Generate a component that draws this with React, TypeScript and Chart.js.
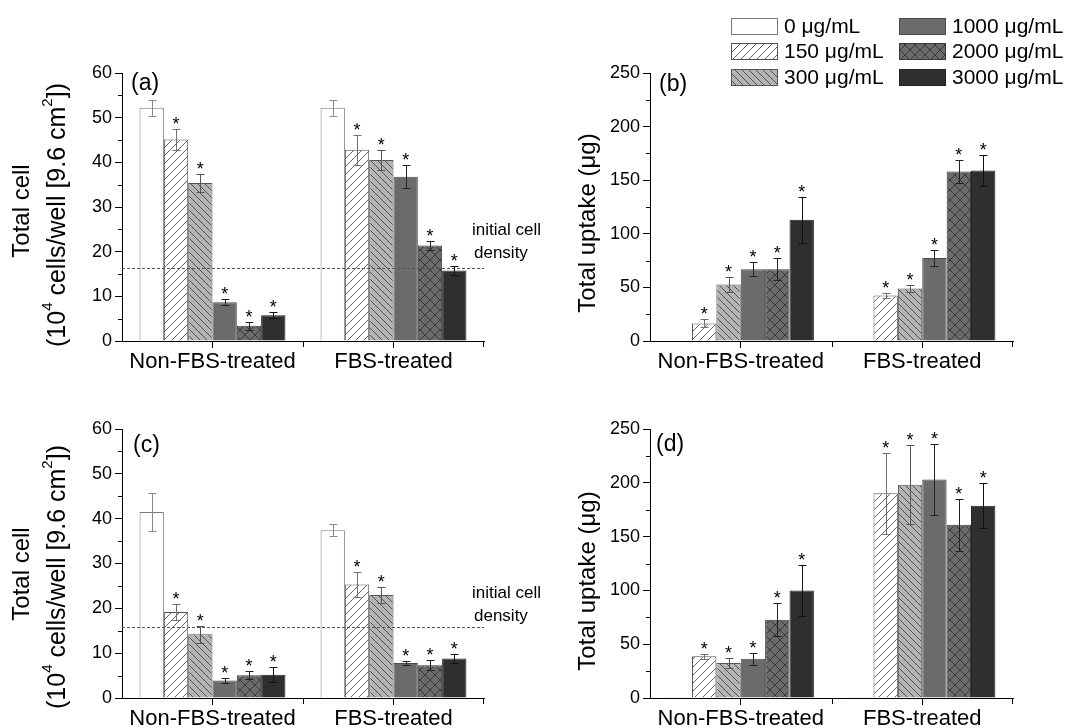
import React, { useEffect, useRef } from "react";
import { Chart, registerables } from "chart.js";
Chart.register(...registerables);

const FONT = '"Liberation Sans", Arial, sans-serif';
const W = 1078;
const H = 728;

// ---------- data ----------
const groups = ["Non-FBS-treated", "FBS-treated"];
const concentrations = ["0 μg/mL", "150 μg/mL", "300 μg/mL", "1000 μg/mL", "2000 μg/mL", "3000 μg/mL"];

// values per concentration: [Non-FBS-treated, FBS-treated]
const cellsA = [[52.2, 52.2], [45.1, 42.8], [35.4, 40.5], [8.7, 36.8], [3.4, 21.4], [5.75, 15.8]];
const cellsAErr = [[1.75, 1.75], [2.3, 3.4], [2.1, 2.3], [0.75, 2.6], [0.9, 1.1], [0.7, 1.1]];
const uptakeB = [[0, 0], [16.4, 42.5], [52.7, 49], [67, 77.5], [67, 158], [113, 159]];
const uptakeBErr = [[0, 0], [3.7, 2], [7, 3.7], [6.5, 7.3], [10.5, 11], [21.5, 14.7]];
const cellsC = [[41.5, 37.4], [19.2, 25.3], [14.2, 23.0], [3.9, 7.8], [5.1, 7.3], [5.2, 8.8]];
const cellsCErr = [[4.2, 1.3], [1.7, 2.8], [1.9, 1.7], [0.55, 0.5], [0.9, 1.1], [1.7, 1.0]];
const uptakeD = [[0.6, 0.6], [38.7, 190.2], [32.5, 198.3], [36.5, 203], [72.8, 161], [100, 178.7]];
const uptakeDErr = [[0, 0], [2.2, 37.5], [4.3, 36.7], [5.4, 33], [15.6, 24.2], [23.7, 21]];
const significant = [[false, false], [true, true], [true, true], [true, true], [true, true], [true, true]];

const initialDensityA = 16.4;
const initialDensityC = 15.8;
const cellAxisMax = 60;
const cellAxisStep = 10;
const uptakeAxisMax = 250;
const uptakeAxisStep = 50;

// ---------- styles ----------
const seriesStyle = [
  { bg: "#ffffff", hatch: "", line: "", border: "#7a7a7a", err: "#8a8a8a" },
  { bg: "#ffffff", hatch: "fwd", line: "#3a3a3a", border: "#555555", err: "#707070" },
  { bg: "#b4b4b4", hatch: "back", line: "#3a3a3a", border: "#555555", err: "#555555" },
  { bg: "#6b6b6b", hatch: "", line: "", border: "#4a4a4a", err: "#222222" },
  { bg: "#6b6b6b", hatch: "cross", line: "#2b2b2b", border: "#3a3a3a", err: "#222222" },
  { bg: "#2f2f2f", hatch: "", line: "", border: "#222222", err: "#111111" },
];

type Seg = { t: string; sup?: boolean };
type TitleLine = { segs: Seg[]; x: number; y: number; size: number };
type Panel = {
  key: string;
  values: number[][];
  errors: number[][];
  max: number;
  step: number;
  area: { left: number; top: number; right: number; bottom: number };
  label: string;
  labelPos: [number, number];
  titleLines: TitleLine[];
  density: number | null;
  densityText?: [number, number];
  legend: boolean;
};

const cellTitle = (y1: number, y2: number): TitleLine[] => [
  { segs: [{ t: "Total cell" }], x: 22, y: y1, size: 24 },
  {
    segs: [{ t: "(10" }, { t: "4", sup: true }, { t: " cells/well [9.6 cm" }, { t: "2", sup: true }, { t: "])" }],
    x: 58,
    y: y2,
    size: 25,
  },
];
const uptakeTitle = (y: number): TitleLine[] => [{ segs: [{ t: "Total uptake (μg)" }], x: 588, y, size: 24 }];

const panels: Panel[] = [
  {
    key: "a", values: cellsA, errors: cellsAErr, max: cellAxisMax, step: cellAxisStep,
    area: { left: 122, top: 73, right: 484, bottom: 341 }, label: "(a)", labelPos: [131, 84],
    titleLines: cellTitle(211, 215), density: initialDensityA, densityText: [472, 230], legend: false,
  },
  {
    key: "b", values: uptakeB, errors: uptakeBErr, max: uptakeAxisMax, step: uptakeAxisStep,
    area: { left: 650, top: 73, right: 1013, bottom: 341 }, label: "(b)", labelPos: [659, 85],
    titleLines: uptakeTitle(223), density: null, legend: true,
  },
  {
    key: "c", values: cellsC, errors: cellsCErr, max: cellAxisMax, step: cellAxisStep,
    area: { left: 122, top: 429, right: 484, bottom: 698 }, label: "(c)", labelPos: [133, 446],
    titleLines: cellTitle(574, 577), density: initialDensityC, densityText: [472, 593], legend: false,
  },
  {
    key: "d", values: uptakeD, errors: uptakeDErr, max: uptakeAxisMax, step: uptakeAxisStep,
    area: { left: 650, top: 429, right: 1013, bottom: 698 }, label: "(d)", labelPos: [656, 445],
    titleLines: uptakeTitle(581), density: null, legend: false,
  },
];

function makeFill(i: number): CanvasPattern | string {
  const s = seriesStyle[i];
  if (!s.hatch) return s.bg;
  const size = s.hatch === "cross" ? 10 : s.hatch === "back" ? 7 : 8;
  const c = document.createElement("canvas");
  c.width = size;
  c.height = size;
  const g = c.getContext("2d")!;
  g.fillStyle = s.bg;
  g.fillRect(0, 0, size, size);
  g.strokeStyle = s.line;
  g.lineWidth = 0.8;
  g.beginPath();
  for (let k = -1; k <= 1; k++) {
    if (s.hatch === "fwd" || s.hatch === "cross") {
      g.moveTo(k * size, size);
      g.lineTo(k * size + size, 0);
    }
    if (s.hatch === "back" || s.hatch === "cross") {
      g.moveTo(k * size, 0);
      g.lineTo(k * size + size, size);
    }
  }
  g.stroke();
  return g.createPattern(c, "repeat")!;
}

function drawRich(ctx: CanvasRenderingContext2D, segs: Seg[], cx: number, cy: number, size: number) {
  const supSize = Math.round(size * 0.6);
  ctx.save();
  ctx.translate(cx, cy);
  ctx.rotate(-Math.PI / 2);
  ctx.textBaseline = "middle";
  ctx.textAlign = "left";
  let total = 0;
  const widths = segs.map((sg) => {
    ctx.font = `${sg.sup ? supSize : size}px ${FONT}`;
    const w = ctx.measureText(sg.t).width;
    total += w;
    return w;
  });
  let x = -total / 2;
  segs.forEach((sg, k) => {
    ctx.font = `${sg.sup ? supSize : size}px ${FONT}`;
    ctx.fillStyle = "#000";
    ctx.fillText(sg.t, x, sg.sup ? -size * 0.4 : 0);
    x += widths[k];
  });
  ctx.restore();
}

function overlay(p: Panel, fills: (CanvasPattern | string)[]) {
  return {
    id: "overlay" + p.key,
    afterDatasetsDraw(chart: any) {
      const ctx: CanvasRenderingContext2D = chart.ctx;
      const ys = chart.scales.y;
      const a = chart.chartArea;
      ctx.save();
      if (p.density != null) {
        const y = Math.round(ys.getPixelForValue(p.density)) + 0.5;
        ctx.strokeStyle = "#555";
        ctx.lineWidth = 1;
        ctx.setLineDash([3, 2]);
        ctx.beginPath();
        ctx.moveTo(a.left, y);
        ctx.lineTo(a.right, y);
        ctx.stroke();
        ctx.setLineDash([]);
      }
      p.values.forEach((series, i) => {
        const meta = chart.getDatasetMeta(i);
        series.forEach((v, j) => {
          const e = p.errors[i][j];
          const el = meta.data[j];
          const x = Math.round(el.x) + 0.5;
          const yt = ys.getPixelForValue(v + e);
          if (e > 0) {
            const yb = ys.getPixelForValue(v - e);
            ctx.strokeStyle = seriesStyle[i].err;
            ctx.lineWidth = 1;
            ctx.beginPath();
            ctx.moveTo(x, Math.round(yt) + 0.5);
            ctx.lineTo(x, Math.round(yb) + 0.5);
            ctx.moveTo(x - 4, Math.round(yt) + 0.5);
            ctx.lineTo(x + 4, Math.round(yt) + 0.5);
            ctx.moveTo(x - 4, Math.round(yb) + 0.5);
            ctx.lineTo(x + 4, Math.round(yb) + 0.5);
            ctx.stroke();
          }
          if (significant[i][j]) {
            ctx.fillStyle = "#000";
            ctx.font = `18px ${FONT}`;
            ctx.textAlign = "center";
            ctx.textBaseline = "alphabetic";
            ctx.fillText("*", el.x, yt + 1);
          }
        });
      });
      ctx.restore();
    },
    afterDraw(chart: any) {
      const ctx: CanvasRenderingContext2D = chart.ctx;
      const ys = chart.scales.y;
      const a = chart.chartArea;
      ctx.save();
      ctx.strokeStyle = "#000";
      ctx.lineWidth = 1;
      ctx.beginPath();
      // minor y ticks
      for (let v = p.step / 2; v < p.max; v += p.step) {
        const y = Math.round(ys.getPixelForValue(v)) + 0.5;
        ctx.moveTo(a.left - 4, y);
        ctx.lineTo(a.left, y);
      }
      // boundary x ticks
      const mid = Math.round((a.left + a.right) / 2) + 0.5;
      ctx.moveTo(mid, a.bottom);
      ctx.lineTo(mid, a.bottom + 6);
      ctx.moveTo(Math.round(a.right) - 0.5, a.bottom);
      ctx.lineTo(Math.round(a.right) - 0.5, a.bottom + 6);
      ctx.stroke();

      // panel label
      ctx.fillStyle = "#000";
      ctx.font = `23px ${FONT}`;
      ctx.textAlign = "left";
      ctx.textBaseline = "middle";
      ctx.fillText(p.label, p.labelPos[0], p.labelPos[1]);

      // y titles
      p.titleLines.forEach((ln) => drawRich(ctx, ln.segs, ln.x, ln.y, ln.size));

      // initial cell density text
      if (p.densityText) {
        ctx.fillStyle = "#000";
        ctx.font = `17px ${FONT}`;
        ctx.textAlign = "left";
        ctx.textBaseline = "middle";
        ctx.fillText("initial cell", p.densityText[0], p.densityText[1]);
        ctx.fillText("density", p.densityText[0] + 2, p.densityText[1] + 23);
      }

      // legend
      if (p.legend) {
        const cols = [731, 899];
        const rows = [26, 51, 77];
        concentrations.forEach((lab, i) => {
          const bx = cols[Math.floor(i / 3)];
          const cy = rows[i % 3];
          ctx.fillStyle = fills[i] as any;
          ctx.fillRect(bx, cy - 8, 47, 17);
          ctx.strokeStyle = seriesStyle[i].border;
          ctx.lineWidth = 1;
          ctx.strokeRect(bx + 0.5, cy - 8 + 0.5, 46, 16);
          ctx.fillStyle = "#000";
          ctx.font = `21px ${FONT}`;
          ctx.textAlign = "left";
          ctx.textBaseline = "middle";
          ctx.fillText(lab, bx + 53, cy + 1);
        });
      }
      ctx.restore();
    },
  };
}

function makeConfig(p: Panel, fills: (CanvasPattern | string)[]): any {
  const yw = 40;
  const xh = 40;
  return {
    type: "bar",
    data: {
      labels: groups,
      datasets: concentrations.map((lab, i) => ({
        label: lab,
        data: p.values[i],
        backgroundColor: fills[i],
        borderColor: seriesStyle[i].border,
        borderWidth: 1,
        categoryPercentage: 0.806,
        barPercentage: 1,
      })),
    },
    options: {
      responsive: false,
      animation: false,
      devicePixelRatio: 1,
      layout: {
        padding: {
          left: p.area.left - yw,
          top: p.area.top,
          right: W - p.area.right,
          bottom: H - p.area.bottom - xh,
        },
      },
      plugins: { legend: { display: false }, tooltip: { enabled: false } },
      scales: {
        x: {
          type: "category",
          offset: true,
          grid: { display: true, drawOnChartArea: false, drawTicks: true, tickLength: 7, color: "#000", offset: false },
          border: { display: true, color: "#000", width: 1 },
          ticks: { font: { family: FONT, size: 22 }, color: "#000", padding: 1, maxRotation: 0, autoSkip: false },
          afterFit: (s: any) => { s.height = xh; },
        },
        y: {
          min: 0,
          max: p.max,
          grid: { display: true, drawOnChartArea: false, drawTicks: true, tickLength: 7, color: "#000" },
          border: { display: true, color: "#000", width: 1 },
          ticks: { stepSize: p.step, font: { family: FONT, size: 18 }, color: "#000", padding: 3 },
          afterFit: (s: any) => { s.width = yw; },
        },
      },
    },
    plugins: [overlay(p, fills)],
  };
}

export default function App() {
  const canvases = useRef<(HTMLCanvasElement | null)[]>([]);
  useEffect(() => {
    const fills = seriesStyle.map((_, i) => makeFill(i));
    const charts = panels.map((p, k) => new Chart(canvases.current[k]!, makeConfig(p, fills)));
    return () => charts.forEach((c) => c.destroy());
  }, []);
  return (
    <div style={{ position: "absolute", left: 0, top: 0, width: W, height: H, background: "#fff", overflow: "hidden" }}>
      {panels.map((p, k) => (
        <canvas
          key={p.key}
          ref={(el) => { canvases.current[k] = el; }}
          width={W}
          height={H}
          style={{ position: "absolute", left: 0, top: 0, width: W, height: H }}
        />
      ))}
    </div>
  );
}
